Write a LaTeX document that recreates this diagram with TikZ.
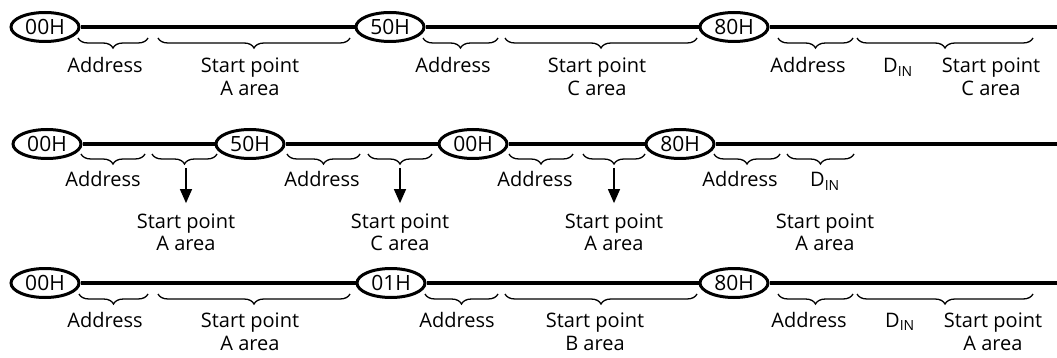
\documentclass[tikz,border=0pt]{standalone}
\usepackage{fontspec}
\setmainfont{Open Sans}
\usetikzlibrary{arrows.meta,shapes.geometric,decorations.pathreplacing}

\begin{document}
\begin{tikzpicture}[x=1pt,y=-1pt,font=\fontsize{20}{23}\selectfont,>={Triangle[width=12pt,length=14pt]},
  tag/.style={ellipse,draw,line width=3pt,minimum width=68pt,minimum height=29pt,inner sep=0pt,font=\fontsize{21}{23}\selectfont},
  bus/.style={line width=3.4pt},
  brc/.style={decorate,decoration={brace,mirror,amplitude=10pt},line width=1.3pt},
  lbl/.style={align=center,inner sep=0pt,anchor=base},
  pick/.style={->,line width=1.3pt,shorten >=10pt}]
\useasboundingbox (0,0) rectangle (1057,358);
% first sequence
\node[tag] (r1a) at (45,27) {00H};
\node[tag] (r1b) at (390,27) {50H};
\node[tag] (r1c) at (734,27) {80H};
\coordinate (r1end) at (1057,27);
\draw[bus] (r1a) -- (r1b) (r1b) -- (r1c) (r1c) -- (r1end);
\draw[brc] (78,38) -- (148,38);
\draw[brc] (158,38) -- (350,38);
\draw[brc] (423,38) -- (498,38);
\draw[brc] (505,38) -- (697,38);
\draw[brc] (778,38) -- (853,38);
\draw[brc] (857,38) -- (1033,38);
\node[lbl] (a1a) at (105,73) {Address};
\node[lbl] (s1a) at (250,96) {Start point\\A area};
\node[lbl] (a1b) at (453,73) {Address};
\node[lbl] (s1b) at (597,96) {Start point\\C area};
\node[lbl] (a1c) at (808,73) {Address};
\node[lbl] (d1c) at (898,73) {D\textsubscript{IN}};
\node[lbl] (s1c) at (991,96) {Start point\\C area};
% second sequence
\node[tag] (r2a) at (47,144) {00H};
\node[tag] (r2b) at (250,144) {50H};
\node[tag] (r2c) at (473,144) {00H};
\node[tag] (r2d) at (680,144) {80H};
\coordinate (r2end) at (1057,144);
\draw[bus] (r2a) -- (r2b) (r2b) -- (r2c) (r2c) -- (r2d) (r2d) -- (r2end);
\draw[brc] (81,154) -- (145,154);
\draw[brc] (152,154) -- (217,154);
\draw[brc] (287,154) -- (360,154);
\draw[brc] (368,154) -- (432,154);
\draw[brc] (509,154) -- (573,154);
\draw[brc] (583,154) -- (645,154);
\draw[brc] (714,154) -- (780,154);
\draw[brc] (787,154) -- (854,154);
\coordinate (t2a) at (186,168);
\coordinate (t2b) at (400,168);
\coordinate (t2c) at (614,168);
\node[lbl] (a2a) at (103,187) {Address};
\node[lbl] (a2b) at (322,187) {Address};
\node[lbl] (a2c) at (535,187) {Address};
\node[lbl] (a2d) at (740,187) {Address};
\node[lbl] (d2d) at (825,187) {D\textsubscript{IN}};
\node[lbl] (s2a) at (186,251) {Start point\\A area};
\node[lbl] (s2b) at (400,251) {Start point\\C area};
\node[lbl] (s2c) at (614,251) {Start point\\A area};
\node[lbl] (s2d) at (825,251) {Start point\\A area};
\draw[pick] (t2a) -- (s2a.north);
\draw[pick] (t2b) -- (s2b.north);
\draw[pick] (t2c) -- (s2c.north);
% third sequence
\node[tag] (r3a) at (45,283) {00H};
\node[tag] (r3b) at (391,283) {01H};
\node[tag] (r3c) at (734,283) {80H};
\coordinate (r3end) at (1057,283);
\draw[bus] (r3a) -- (r3b) (r3b) -- (r3c) (r3c) -- (r3end);
\draw[brc] (79,294) -- (148,294);
\draw[brc] (158,294) -- (350,294);
\draw[brc] (425,294) -- (498,294);
\draw[brc] (505,294) -- (697,294);
\draw[brc] (778,294) -- (853,294);
\draw[brc] (857,294) -- (1033,294);
\node[lbl] (a3a) at (105,327) {Address};
\node[lbl] (s3a) at (250,350) {Start point\\A area};
\node[lbl] (a3b) at (457,327) {Address};
\node[lbl] (s3b) at (595,350) {Start point\\B area};
\node[lbl] (a3c) at (809,327) {Address};
\node[lbl] (d3c) at (900,327) {D\textsubscript{IN}};
\node[lbl] (s3c) at (993,350) {Start point\\A area};
\end{tikzpicture}
\end{document}
